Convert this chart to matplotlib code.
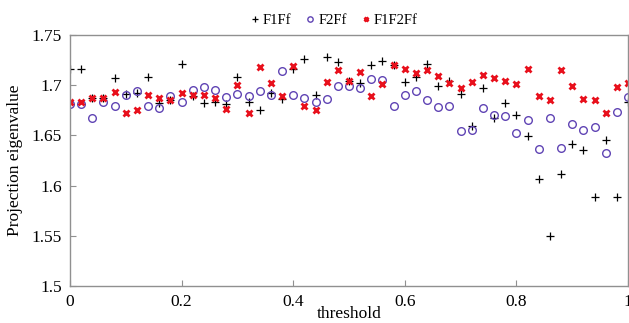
import matplotlib
matplotlib.use("Agg")
import matplotlib.pyplot as plt
import numpy as np

plt.rcParams['font.family'] = ['Liberation Serif', 'DejaVu Serif']

# threshold values 0, 0.02, ..., 1.0
threshold = [round(0.02 * i, 2) for i in range(51)]

f1ff = [1.716, 1.716, 1.687, 1.687, 1.707, 1.691, 1.692, 1.708, 1.682, 1.685,
        1.721, 1.689, 1.682, 1.683, 1.681, 1.708, 1.683, 1.675, 1.692, 1.686,
        1.716, 1.726, 1.690, 1.728, 1.723, 1.704, 1.702, 1.720, 1.724, 1.720,
        1.703, 1.708, 1.721, 1.699, 1.704, 1.691, 1.659, 1.697, 1.667, 1.682,
        1.670, 1.649, 1.607, 1.550, 1.612, 1.641, 1.635, 1.589, 1.645, 1.589,
        1.683]

f2ff = [1.681, 1.681, 1.667, 1.683, 1.679, 1.690, 1.694, 1.679, 1.677, 1.689,
        1.683, 1.695, 1.698, 1.695, 1.688, 1.691, 1.689, 1.694, 1.690, 1.714,
        1.690, 1.687, 1.683, 1.686, 1.699, 1.699, 1.697, 1.706, 1.705, 1.679,
        1.690, 1.694, 1.685, 1.678, 1.679, 1.654, 1.655, 1.677, 1.670, 1.669,
        1.652, 1.665, 1.636, 1.667, 1.637, 1.661, 1.655, 1.658, 1.632, 1.673,
        1.688]

f1f2ff = [1.683, 1.683, 1.687, 1.687, 1.693, 1.672, 1.675, 1.690, 1.687, 1.685,
          1.692, 1.690, 1.690, 1.687, 1.676, 1.700, 1.672, 1.718, 1.702, 1.689,
          1.719, 1.679, 1.675, 1.703, 1.715, 1.704, 1.713, 1.689, 1.701, 1.720,
          1.716, 1.712, 1.715, 1.709, 1.702, 1.697, 1.703, 1.710, 1.707, 1.704,
          1.701, 1.716, 1.689, 1.685, 1.715, 1.699, 1.686, 1.685, 1.672, 1.698,
          1.702]

fig = plt.figure(figsize=(6.29, 3.23), dpi=100)
ax = fig.add_axes([0.1113, 0.1146, 0.8871, 0.777])

ax.plot(threshold, f1ff, linestyle='none', marker='+', color='black',
        markersize=6, markeredgewidth=0.9, label='F1Ff')
ax.plot(threshold, f2ff, linestyle='none', marker='o', color='#6044b4',
        markerfacecolor='none', markersize=5.5, markeredgewidth=1.0, label='F2Ff')
ax.plot(threshold, f1f2ff, linestyle='none', marker='x', color='#e8101c',
        markersize=4.5, markeredgewidth=2.0, label='F1F2Ff')

ax.set_xlim(0, 1)
ax.set_ylim(1.5, 1.75)
ax.set_xticks([0, 0.2, 0.4, 0.6, 0.8, 1])
ax.set_xticklabels(['0', '0.2', '0.4', '0.6', '0.8', '1'])
ax.set_yticks([1.5, 1.55, 1.6, 1.65, 1.7, 1.75])
ax.set_yticklabels(['1.5', '1.55', '1.6', '1.65', '1.7', '1.75'])
ax.tick_params(direction='in', length=4, color='#909090', labelsize=12.5, pad=6)
for sp in ax.spines.values():
    sp.set_color('#909090')
    sp.set_linewidth(1.0)

ax.set_xlabel('threshold', fontsize=12.5, labelpad=-3)
ax.set_ylabel('Projection eigenvalue', fontsize=12.5, labelpad=6)

fig.legend(loc='center', bbox_to_anchor=(0.531, 0.938), ncol=3, frameon=False,
           fontsize=10.5, handlelength=0.6, handletextpad=0.25, columnspacing=1.0,
           markerscale=0.7)

fig.savefig('out.png', dpi=100)
